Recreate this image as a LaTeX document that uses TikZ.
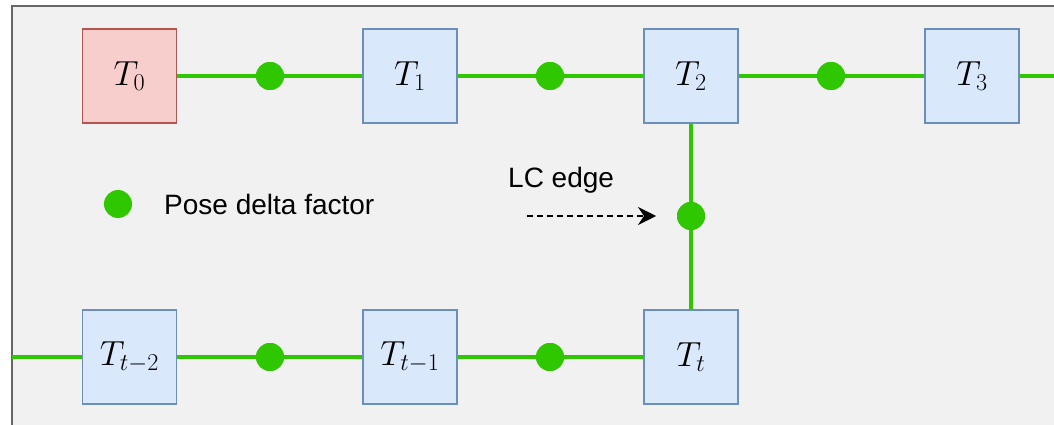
\documentclass[tikz,border=0pt]{standalone}
\usepackage{fontspec}
\setmainfont{Liberation Sans}
\usetikzlibrary{arrows.meta}
\definecolor{bgc}{HTML}{F1F1F1}
\definecolor{framec}{HTML}{666666}
\definecolor{gr}{RGB}{46,199,0}
\definecolor{redfill}{HTML}{F8CECC}
\definecolor{redline}{HTML}{B85450}
\definecolor{bluefill}{HTML}{DAE8FC}
\definecolor{blueline}{HTML}{6C8EBF}
\newcommand{\poselbl}[1]{\scalebox{1.4}{$#1$}}
\tikzset{
  posebox/.style={draw=blueline, fill=bluefill, line width=1.5pt, minimum width=94pt, minimum height=94pt, inner sep=0pt, font=\fontsize{24}{28}\selectfont},
  rootbox/.style={posebox, draw=redline, fill=redfill},
  factor/.style={circle, fill=gr, draw=none, minimum size=28pt, inner sep=0pt},
  link/.style={draw=gr, line width=4pt},
  lbl/.style={font=\fontsize{28}{32}\selectfont, text=black, inner sep=0pt}
}
\begin{document}
\begin{tikzpicture}[x=1pt, y=-1pt]
\useasboundingbox (0,0) rectangle (1054,425);
\fill[white] (0,0) rectangle (1054,425);
\filldraw[fill=bgc, draw=framec, line width=2pt] (12,6) rectangle (1070,440);
% top row
\node[rootbox] (t0) at (129.5,76) {\poselbl{T_0}};
\node[posebox] (t1) at (410,76) {\poselbl{T_1}};
\node[posebox] (t2) at (691,76) {\poselbl{T_2}};
\node[posebox] (t3) at (972,76) {\poselbl{T_3}};
\node[factor] (f01) at (270,76) {};
\node[factor] (f12) at (550,76) {};
\node[factor] (f23) at (831,76) {};
\coordinate (rend) at (1054,76);
% bottom row
\node[posebox] (tm2) at (129.5,357) {\poselbl{T_{t-2}}};
\node[posebox] (tm1) at (410,357) {\poselbl{T_{t-1}}};
\node[posebox] (tt) at (691,357) {\poselbl{T_t}};
\node[factor] (fb1) at (270,357) {};
\node[factor] (fb2) at (550,357) {};
\coordinate (lend) at (12,357);
% loop closure factor
\node[factor] (flc) at (691,216) {};
% connectors
\draw[link] (t0) -- (f01) -- (t1) -- (f12) -- (t2) -- (f23) -- (t3) -- (rend);
\draw[link] (lend) -- (tm2) -- (fb1) -- (tm1) -- (fb2) -- (tt);
\draw[link] (t2) -- (flc) -- (tt);
% redraw factors above lines
\node[factor] at (f01) {};
\node[factor] at (f12) {};
\node[factor] at (f23) {};
\node[factor] at (fb1) {};
\node[factor] at (fb2) {};
\node[factor] at (flc) {};
% legend
\node[factor] (leg) at (118,204) {};
\node[lbl, anchor=west] (legtxt) at (164,204) {Pose delta factor};
% LC edge
\node[lbl, anchor=west] (lctxt) at (508,180) {LC edge};
\coordinate (lcs) at (527,216);
\coordinate (lce) at (656,216);
\draw[black, line width=2pt, dash pattern=on 6pt off 4pt, -{Stealth[length=18pt, width=18pt, inset=6pt]}] (lcs) -- (lce);
\end{tikzpicture}
\end{document}
